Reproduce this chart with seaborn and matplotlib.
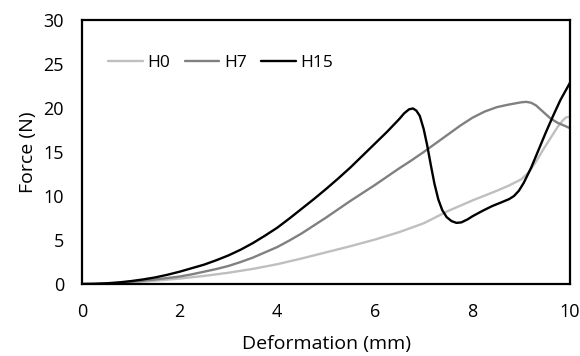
import matplotlib
matplotlib.use("Agg")
import matplotlib.pyplot as plt
import pandas as pd
import seaborn as sns

# Values (deformation in mm, force in N)
h0_x = [0, 0.5, 1, 1.5, 2, 2.5, 3, 3.5, 4, 4.5, 5, 5.5, 6, 6.5, 7, 7.5, 8, 8.5,
        8.75, 9, 9.15, 9.3, 9.45, 9.6, 9.75, 9.85, 9.92, 10]
h0_y = [0, 0.05, 0.18, 0.38, 0.62, 0.92, 1.28, 1.72, 2.25, 2.9, 3.6, 4.3, 5.05,
        5.9, 6.9, 8.3, 9.5, 10.6, 11.2, 11.9, 12.7, 13.9, 15.3, 16.6, 17.9,
        18.6, 18.95, 19.0]

h7_x = [0, 0.25, 0.5, 0.75, 1, 1.25, 1.5, 1.75, 2, 2.25, 2.5, 2.75, 3, 3.25, 3.5,
        3.75, 4, 4.25, 4.5, 4.75, 5, 5.25, 5.5, 5.75, 6, 6.25, 6.5, 6.75, 7,
        7.25, 7.5, 7.75, 8, 8.25, 8.5, 8.75, 9, 9.1, 9.2, 9.3, 9.4, 9.5, 9.6,
        9.75, 9.9, 10]
h7_y = [0, 0.01, 0.05, 0.13, 0.25, 0.38, 0.52, 0.68, 0.85, 1.1, 1.4, 1.7, 2.05,
        2.5, 3.0, 3.6, 4.2, 4.95, 5.75, 6.65, 7.55, 8.5, 9.45, 10.35, 11.25,
        12.2, 13.15, 14.05, 15.0, 16.0, 17.0, 18.0, 18.9, 19.6, 20.1, 20.4,
        20.65, 20.7, 20.6, 20.3, 19.8, 19.3, 18.8, 18.3, 17.95, 17.7]

h15_x = [0, 0.25, 0.5, 0.75, 1, 1.25, 1.5, 1.75, 2, 2.25, 2.5, 2.75, 3, 3.25, 3.5,
         3.75, 4, 4.25, 4.5, 4.75, 5, 5.25, 5.5, 5.75, 6, 6.25, 6.5, 6.6, 6.7,
         6.78, 6.85, 6.92, 7.0, 7.07, 7.15, 7.22, 7.3, 7.38, 7.47, 7.57, 7.67,
         7.77, 7.9, 8.0, 8.2, 8.4, 8.6, 8.75, 8.85, 8.95, 9.05, 9.2, 9.35, 9.5,
         9.65, 9.8, 10]
h15_y = [0, 0.02, 0.08, 0.18, 0.33, 0.52, 0.75, 1.05, 1.4, 1.8, 2.2, 2.7, 3.25,
         3.9, 4.65, 5.5, 6.4, 7.45, 8.55, 9.65, 10.8, 12.0, 13.25, 14.6, 15.95,
         17.3, 18.75, 19.4, 19.85, 19.95, 19.7, 19.1, 17.6, 15.8, 13.4, 11.4,
         9.6, 8.4, 7.6, 7.15, 6.95, 7.0, 7.35, 7.7, 8.3, 8.85, 9.3, 9.65, 10.0,
         10.6, 11.5, 13.2, 15.2, 17.2, 19.1, 20.9, 22.9]

series_names = ["H0", "H7", "H15"]
series_colors = ["#BFBFBF", "#808080", "#000000"]

df = pd.concat([
    pd.DataFrame({"x": h0_x, "y": h0_y, "series": "H0"}),
    pd.DataFrame({"x": h7_x, "y": h7_y, "series": "H7"}),
    pd.DataFrame({"x": h15_x, "y": h15_y, "series": "H15"}),
], ignore_index=True)

sns.set_style("white")
plt.rcParams["font.family"] = ["Open Sans", "DejaVu Sans"]
plt.rcParams["text.color"] = "black"
plt.rcParams["axes.labelcolor"] = "black"
plt.rcParams["xtick.color"] = "black"
plt.rcParams["ytick.color"] = "black"

fig = plt.figure(figsize=(5.8, 3.56), dpi=100)
ax = fig.add_axes([0.1414, 0.2022, 0.8416, 0.7416])

sns.lineplot(data=df, x="x", y="y", hue="series", hue_order=series_names,
             palette=dict(zip(series_names, series_colors)), estimator=None,
             sort=False, linewidth=1.7, ax=ax)

ax.set_xlim(0, 10)
ax.set_ylim(0, 30)
ax.set_xticks([0, 2, 4, 6, 8, 10])
ax.set_yticks([0, 5, 10, 15, 20, 25, 30])
ax.set_xlabel("Deformation (mm)", fontsize=14, labelpad=10)
ax.set_ylabel("Force (N)", fontsize=14, labelpad=5)
ax.tick_params(axis="both", direction="in", length=5, width=1.3,
               labelsize=13, color="black", labelcolor="black")
ax.tick_params(axis="x", pad=14)
ax.tick_params(axis="y", pad=13)

for side in ["left", "right", "top", "bottom"]:
    ax.spines[side].set_visible(True)
    ax.spines[side].set_color("black")
    ax.spines[side].set_linewidth(1.6)

leg = ax.legend(loc="center left", bbox_to_anchor=(0.053, 0.837), ncol=3,
                frameon=False, fontsize=12.5, handlelength=2.0,
                handletextpad=0.25, columnspacing=0.86, borderaxespad=0,
                borderpad=0)
for line in leg.get_lines():
    line.set_linewidth(1.7)
for text in leg.get_texts():
    text.set_color("black")

fig.savefig("out.png", dpi=100)
